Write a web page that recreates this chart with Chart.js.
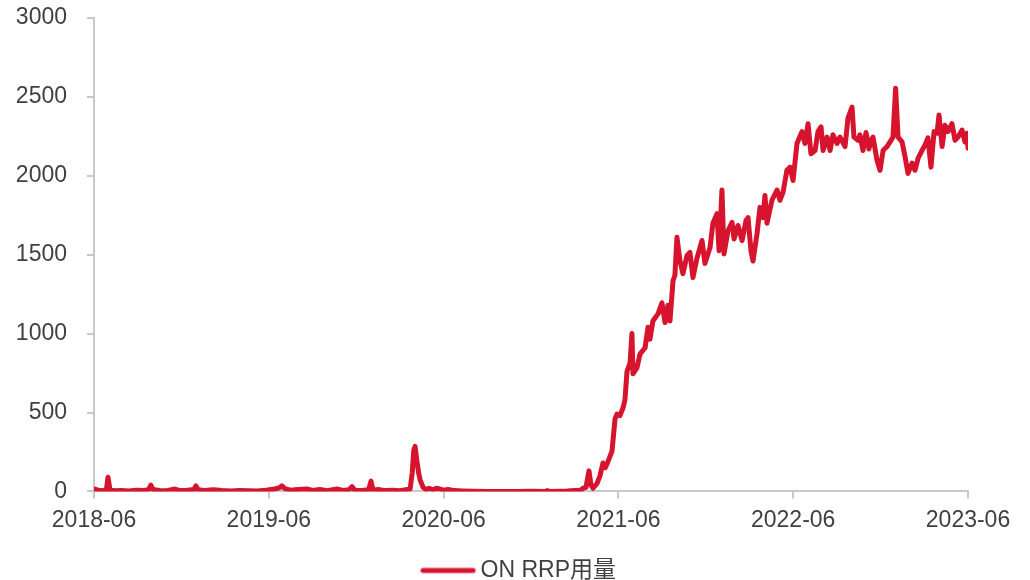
<!DOCTYPE html>
<html>
<head>
<meta charset="utf-8">
<style>
html,body{margin:0;padding:0;background:#ffffff;}
#wrap{width:1030px;height:580px;}
</style>
<script src="https://cdn.jsdelivr.net/npm/chart.js@4/dist/chart.umd.min.js"></script>
</head>
<body>
<div id="wrap"><canvas id="c" width="1030" height="580"></canvas></div>
<script>
// x values: months since 2018-06; y values: ON RRP usage (USD bn)
const xTickLabels = ['2018-06', '2019-06', '2020-06', '2021-06', '2022-06', '2023-06'];
const yTickStep = 500;
const seriesName = 'ON RRP用量';

const rrpEarly = [
  [0,15],[0.3,8],[0.6,5],[0.85,10],[0.96,90],[1.1,10],[1.4,4],[1.9,6],[2.4,3],[2.9,8],
  [3.4,5],[3.75,12],[3.9,40],[4.05,12],[4.5,6],[5.0,4],[5.56,15],[5.9,5],[6.4,8],[6.85,12],
  [7.0,35],[7.15,10],[7.6,6],[8.2,10],[8.8,5],[9.4,3],[10.0,6],[10.6,4],[11.2,3],[11.8,8],
  [12.4,15],[12.7,22],[12.9,35],[13.1,18],[13.5,8],[14.0,12],[14.62,15],[15.0,6],[15.5,12],[16.0,5],
  [16.68,15],[17.1,6],[17.5,10],[17.71,30],[17.9,8],[18.4,6],[18.85,10],[19.02,65],[19.15,8]
];

const rrpCovid = [
  [19.5,12],[20.0,5],[20.5,8],[21.0,4],[21.4,10],[21.7,15],[21.85,120],[21.95,260],[22.04,285],[22.17,190],
  [22.3,110],[22.4,70],[22.6,25],[22.8,12],[23.0,20],[23.3,10],[23.5,20],[23.75,15],[24.0,8],[24.3,12],
  [24.78,5],[25.3,3],[26.0,1],[27.0,0],[28.0,0],[29.0,0],[30.0,1],[31.0,0],[31.1,5],[31.3,0],
  [32.0,1],[32.5,2],[33.0,5]
];

const rrpRise = [
  [33.36,5],[33.57,20],[33.77,25],[33.98,130],[34.12,40],[34.26,20],[34.53,50],[34.74,100],[34.94,180],[35.1,150],
  [35.29,190],[35.56,255],[35.77,460],[35.9,490],[36.11,480],[36.32,530],[36.45,580],[36.59,760],[36.8,815],[36.93,1000],
  [37.0,745],[37.28,785],[37.48,870],[37.83,910],[38.03,1040],[38.17,965],[38.37,1080],[38.72,1125],[38.99,1195],[39.2,1070],
  [39.4,1180],[39.54,1080],[39.75,1335],[39.88,1370],[40.02,1610],[40.23,1460],[40.43,1380],[40.71,1495],[40.91,1515],[41.12,1355],
  [41.4,1480],[41.74,1590],[41.94,1445],[42.29,1545],[42.49,1700],[42.77,1760],[42.91,1525],[43.11,1910],[43.25,1505],[43.52,1650],
  [43.8,1705],[43.94,1600],[44.21,1685],[44.49,1590],[44.76,1717],[44.9,1735],[45.1,1525],[45.24,1460],[45.52,1635],[45.72,1800],
  [45.93,1735],[46.06,1875],[46.2,1700],[46.54,1845],[46.89,1910],[47.09,1845],[47.3,1895],[47.57,2035],[47.78,2055],[47.99,1970],
  [48.26,2205]
];

const rrpPlateau = [
  [48.6,2280],[48.81,2205],[49.02,2330],[49.22,2140],[49.5,2160],[49.7,2280],[49.91,2310],[50.05,2160],[50.32,2245],[50.53,2160],
  [50.73,2260],[51.01,2205],[51.21,2245],[51.56,2185],[51.76,2365],[52.04,2435],[52.17,2245],[52.45,2225],[52.58,2260],[52.79,2160],
  [53.0,2275],[53.2,2170],[53.34,2225],[53.48,2245],[53.75,2100],[53.96,2035],[54.17,2160],[54.44,2185],[54.65,2215],[54.85,2245],
  [55.03,2555],[55.2,2245],[55.47,2215],[55.68,2120],[55.88,2015],[56.16,2080],[56.36,2035],[56.57,2110],[56.84,2160],[57.05,2195],
  [57.25,2240],[57.46,2055],[57.67,2280],[57.87,2270],[58.01,2385],[58.22,2185],[58.42,2320],[58.63,2280],[58.9,2330],[59.11,2225],
  [59.31,2245],[59.59,2290],[59.79,2215],[59.93,2270],[60.0,2175]
];

const points = [...rrpEarly, ...rrpCovid, ...rrpRise, ...rrpPlateau].map(([x, y]) => ({x, y}));

const FONT = '"Liberation Sans", Arial, "Noto Sans CJK SC", sans-serif';
Chart.defaults.font.family = FONT;
const textColor = '#404040';
const axisColor = '#c8c8c8';
const lineColor = '#d7132d';

// legend marker: a short thick line, drawn as an image so the gap to the text matches
const legendMarker = document.createElement('canvas');
legendMarker.width = 80;
legendMarker.height = 10;
(function () {
  const g = legendMarker.getContext('2d');
  g.strokeStyle = lineColor;
  g.lineWidth = 5;
  g.lineCap = 'round';
  g.beginPath();
  g.moveTo(21.5, 5);
  g.lineTo(71.5, 5);
  g.stroke();
})();

new Chart(document.getElementById('c'), {
  type: 'line',
  data: {
    datasets: [{
      label: seriesName,
      data: points,
      borderColor: lineColor,
      backgroundColor: lineColor,
      borderWidth: 5,
      pointRadius: 0,
      tension: 0,
      borderJoinStyle: 'round',
      borderCapStyle: 'round',
      fill: false
    }]
  },
  options: {
    responsive: false,
    animation: false,
    layout: { padding: { top: 18, left: 0, right: 0, bottom: -12 } },
    plugins: {
      legend: {
        position: 'bottom',
        labels: {
          usePointStyle: true,
          pointStyle: legendMarker,
          pointStyleWidth: 55,
          padding: 17,
          color: textColor,
          font: { size: 23, family: FONT }
        }
      },
      tooltip: { enabled: false }
    },
    scales: {
      x: {
        type: 'linear',
        min: 0,
        max: 60,
        afterBuildTicks: (s) => { s.ticks = xTickLabels.map((_, i) => ({ value: i * 12 })); },
        afterFit: (s) => { s.paddingRight = 62; },
        ticks: {
          callback: (v) => xTickLabels[Math.round(v / 12)],
          padding: 8,
          maxRotation: 0,
          autoSkip: false,
          color: textColor,
          font: { size: 23 }
        },
        grid: { display: true, drawOnChartArea: false, drawTicks: true, tickLength: 7, color: axisColor, lineWidth: 2 },
        border: { display: true, color: axisColor, width: 2 }
      },
      y: {
        min: 0,
        max: 3000,
        afterFit: (s) => { s.width = 94; s.paddingTop = 0; s.paddingBottom = 0; },
        ticks: {
          stepSize: yTickStep,
          padding: 20,
          color: textColor,
          font: { size: 23 },
          callback: (v) => String(v)
        },
        grid: { display: true, drawOnChartArea: false, drawTicks: true, tickLength: 7, color: axisColor, lineWidth: 2 },
        border: { display: true, color: axisColor, width: 2 }
      }
    }
  }
});
</script>
</body>
</html>
